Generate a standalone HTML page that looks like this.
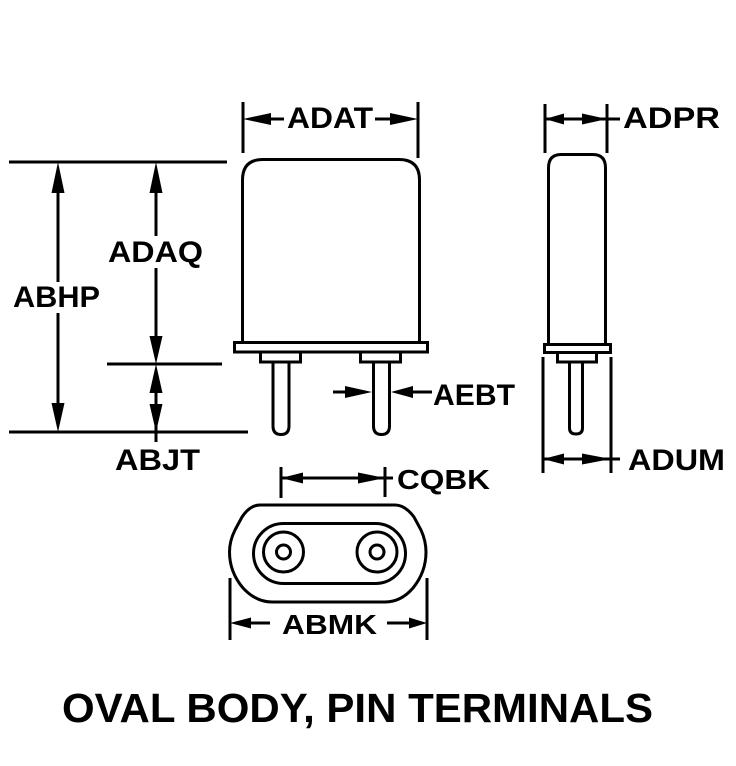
<!DOCTYPE html>
<html>
<head>
<meta charset="utf-8">
<style>
html,body{margin:0;padding:0;background:#fff;}
svg{display:block;}
text{font-family:"Liberation Sans",Arial,sans-serif;font-weight:bold;fill:#000;}
</style>
</head>
<body>
<svg width="736" height="766" viewBox="0 0 736 766" xmlns="http://www.w3.org/2000/svg">
<g stroke="#000" stroke-width="3" fill="none">
  <!-- left horizontal reference lines -->
  <line x1="9" y1="162" x2="227" y2="162"/>
  <line x1="107" y1="364" x2="222" y2="364"/>
  <line x1="9" y1="432" x2="248" y2="432"/>
  <!-- ABHP vertical -->
  <line x1="58" y1="170" x2="58" y2="282"/>
  <line x1="58" y1="313" x2="58" y2="425"/>
  <!-- ADAQ vertical -->
  <line x1="156" y1="170" x2="156" y2="236"/>
  <line x1="156" y1="268" x2="156" y2="358"/>
  <!-- ABJT vertical -->
  <line x1="156" y1="370" x2="156" y2="442"/>

  <!-- ADAT dimension -->
  <line x1="243" y1="102" x2="243" y2="153"/>
  <line x1="418" y1="102" x2="418" y2="158"/>
  <line x1="250" y1="119" x2="284" y2="119"/>
  <line x1="375" y1="119" x2="410" y2="119"/>

  <!-- main body -->
  <path d="M242.5,341 L242.5,180 Q242.5,159.5 263,159.5 L399,159.5 Q419.5,159.5 419.5,180 L419.5,341"/>
  <rect x="234.5" y="342.5" width="193" height="9.5"/>
  <rect x="260.5" y="352" width="40" height="10"/>
  <rect x="360.5" y="352" width="40" height="10"/>
  <path d="M273,362 L273,426 Q273,434.5 281,434.5 Q289,434.5 289,426 L289,362"/>
  <path d="M373.5,362 L373.5,426 Q373.5,434.5 381.5,434.5 Q389.5,434.5 389.5,426 L389.5,362"/>

  <!-- AEBT -->
  <line x1="333" y1="392" x2="350" y2="392"/>
  <line x1="405" y1="392" x2="432" y2="392"/>

  <!-- side view -->
  <line x1="545" y1="104" x2="545" y2="153"/>
  <line x1="607" y1="104" x2="607" y2="153"/>
  <line x1="545" y1="119" x2="620" y2="119"/>
  <path d="M548.5,343 L548.5,168 Q548.5,154.5 561,154.5 L593,154.5 Q605.5,154.5 605.5,168 L605.5,343"/>
  <rect x="544.5" y="344.5" width="66" height="8"/>
  <rect x="557.5" y="352.5" width="39" height="9.5"/>
  <path d="M569.5,362 L569.5,428 Q569.5,434 576,434 Q582.5,434 582.5,428 L582.5,362"/>
  <line x1="543" y1="357" x2="543" y2="473"/>
  <line x1="611" y1="357" x2="611" y2="473"/>
  <line x1="543" y1="459" x2="620" y2="459"/>

  <!-- CQBK -->
  <line x1="281" y1="467" x2="281" y2="498"/>
  <line x1="385" y1="467" x2="385" y2="497"/>
  <line x1="281" y1="478" x2="393" y2="478"/>

  <!-- bottom oval view -->
  <path d="M260,505 L395,505 Q405,505 414,517 L421,530 Q426,541 426,552 Q426,572 413,588 Q401,602 385,602 L272,602 Q256,602 243,588 Q229.5,572 229.5,552 Q229.5,541 235,530 L242,517 Q250,505 260,505 Z"/>
  <rect x="253.5" y="523.5" width="152" height="60" rx="30" ry="30"/>
  <circle cx="283.5" cy="552" r="20"/>
  <circle cx="283.5" cy="552" r="7"/>
  <circle cx="377" cy="552" r="20"/>
  <circle cx="377" cy="552" r="7"/>

  <!-- ABMK -->
  <line x1="230" y1="578" x2="230" y2="640"/>
  <line x1="427" y1="578" x2="427" y2="640"/>
  <line x1="235" y1="623" x2="270" y2="623"/>
  <line x1="387" y1="623" x2="420" y2="623"/>
</g>

<g fill="#000" stroke="none">
  <!-- ABHP arrows -->
  <polygon points="58,162 51.5,193 64.5,193"/>
  <polygon points="58,432 51.5,403 64.5,403"/>
  <!-- ADAQ arrows -->
  <polygon points="156,162 149.5,193 162.5,193"/>
  <polygon points="156,364 149.5,336 162.5,336"/>
  <!-- ABJT arrows -->
  <polygon points="156,364 149.5,393 162.5,393"/>
  <polygon points="156,432 149.5,404 162.5,404"/>
  <!-- ADAT arrows -->
  <polygon points="243,119 271,113 271,125"/>
  <polygon points="418,119 390,113 390,125"/>
  <!-- AEBT arrows -->
  <polygon points="372,392 345,386 345,398"/>
  <polygon points="391,392 413,386 413,398"/>
  <!-- ADPR arrows -->
  <polygon points="545,119 564,113.5 564,124.5"/>
  <polygon points="607,119 582,113.5 582,124.5"/>
  <!-- ADUM arrows -->
  <polygon points="543,459 564,453.5 564,464.5"/>
  <polygon points="611,459 582,453.5 582,464.5"/>
  <!-- CQBK arrows -->
  <polygon points="281,478 303,472.5 303,483.5"/>
  <polygon points="385,478 358,472.5 358,483.5"/>
  <!-- ABMK arrows -->
  <polygon points="230,623 251,617.5 251,628.5"/>
  <polygon points="427,623 409,617.5 409,628.5"/>
</g>

<g font-size="30">
  <text x="13" y="307" textLength="87" lengthAdjust="spacingAndGlyphs">ABHP</text>
  <text x="108" y="262" textLength="95" lengthAdjust="spacingAndGlyphs">ADAQ</text>
  <text x="115" y="470" textLength="85" lengthAdjust="spacingAndGlyphs">ABJT</text>
  <text x="287" y="128" textLength="86" lengthAdjust="spacingAndGlyphs">ADAT</text>
  <text x="623" y="128" textLength="97" lengthAdjust="spacingAndGlyphs">ADPR</text>
  <text x="433" y="405" textLength="82" lengthAdjust="spacingAndGlyphs">AEBT</text>
  <text x="628" y="470" textLength="97" lengthAdjust="spacingAndGlyphs">ADUM</text>
  <text x="397" y="489" font-size="28" textLength="93" lengthAdjust="spacingAndGlyphs">CQBK</text>
  <text x="282" y="634" font-size="28" textLength="95" lengthAdjust="spacingAndGlyphs">ABMK</text>
</g>
<text x="62" y="722" font-size="41" textLength="591" lengthAdjust="spacingAndGlyphs">OVAL BODY, PIN TERMINALS</text>
</svg>
</body>
</html>
